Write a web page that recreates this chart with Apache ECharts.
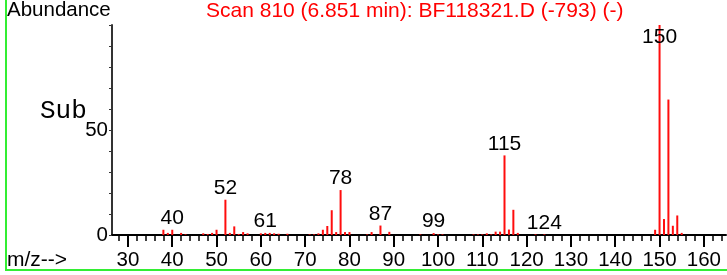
<!DOCTYPE html>
<html>
<head>
<meta charset="utf-8">
<script src="https://cdn.jsdelivr.net/npm/echarts@6/dist/echarts.min.js"></script>
<style>
  html, body { margin: 0; padding: 0; background: #fff; }
  #layout { width: 727px; height: 275px; }
</style>
</head>
<body>
<div id="layout"></div>
<script>
// mass spectrum, scan 810
const massCharge = [38, 39, 40, 42, 43, 47, 48, 49, 50, 52, 53, 54, 55, 56, 57,
    60, 61, 62, 63, 64, 66, 71, 72, 73, 74, 75, 76, 77, 78, 79, 80,
    84, 85, 87, 89, 96, 99, 100, 101, 108, 109, 110, 111, 112, 113, 114,
    115, 116, 117, 118, 122, 124, 149, 150, 151, 152, 153, 154, 155];
const abundance = [2.5, 1, 2.5, 1, 0.3, 0.8, 0.5, 1, 2.5, 16.8, 1, 4.1, 0.5, 1.4, 0.8,
    0.8, 1, 1, 0.8, 0.6, 0.6, 0.3, 0.3, 0.8, 2.5, 4.3, 11.8, 1.4, 21.4, 1.4, 1.4,
    0.3, 1.4, 4.5, 1.5, 0.3, 0.9, 0.3, 0.3, 0.3, 0.3, 0.3, 0.8, 0.3, 1.6, 1.6,
    37.9, 2.6, 12, 1, 0.3, 0.3, 2.5, 100, 7.6, 64.5, 4.4, 9.3, 1];
const labeledPeaks = [40, 52, 61, 78, 87, 99, 115, 124, 150];
const majorTicks = [30, 40, 50, 60, 70, 80, 90, 100, 110, 120, 130, 140, 150, 160];
const minorTicks = [];
for (let t = 28; t <= 164; t += 2) minorTicks.push(t);
const yLabels = [0, 50];

const font = '"Liberation Sans", Arial, sans-serif';

let myChart = echarts.init(document.getElementById('layout'));

let barData = massCharge.map(function(m, i) {
    let item = { value: [m, abundance[i]] };
    if (labeledPeaks.indexOf(m) >= 0) {
        item.label = {
            show: true,
            position: m === 150 ? 'insideTop' : 'top',
            distance: m === 150 ? 2 : 1,
            formatter: String(m),
            color: '#000',
            fontSize: 21,
            fontFamily: font
        };
    }
    return item;
});

let option = {
    animation: false,
    title: {
        text: 'Scan 810 (6.851 min): BF118321.D (-793) (-)',
        left: 206,
        top: 1,
        padding: 0,
        textStyle: { color: '#ff0000', fontSize: 21, fontWeight: 'normal', fontFamily: font }
    },
    grid: { left: 112, right: 1, top: 25, bottom: 40 },
    xAxis: [
        {
            type: 'value',
            min: 26.4,
            max: 165,
            axisLine: { show: true, onZero: false, lineStyle: { color: '#000', width: 2 } },
            axisTick: { show: true, customValues: majorTicks, length: 12, lineStyle: { color: '#000', width: 2 } },
            axisLabel: { customValues: majorTicks, color: '#000', fontSize: 20.5, fontFamily: font, margin: 15 },
            splitLine: { show: false }
        },
        {
            type: 'value',
            min: 26.4,
            max: 165,
            position: 'bottom',
            axisLine: { show: false },
            axisTick: { show: true, customValues: minorTicks, length: 6, lineStyle: { color: '#000', width: 1.5 } },
            axisLabel: { show: false },
            splitLine: { show: false }
        }
    ],
    yAxis: {
        type: 'value',
        min: 0,
        max: 100,
        interval: 10,
        axisLine: { show: true, lineStyle: { color: '#333', width: 2 } },
        axisTick: { show: true, length: 3, lineStyle: { color: '#333' } },
        axisLabel: {
            color: '#000', fontSize: 20.5, fontFamily: font, margin: 4,
            formatter: function(v) { return yLabels.indexOf(v) >= 0 ? String(v) : ''; }
        },
        splitLine: { show: false }
    },
    series: [{
        type: 'bar',
        xAxisIndex: 0,
        barWidth: 2,
        itemStyle: { color: '#ff0d0d' },
        data: barData
    }],
    graphic: [
        {
            type: 'polyline',
            shape: { points: [[6, -2], [6, 270], [730, 270]] },
            style: { stroke: '#33ee33', lineWidth: 2, fill: null }
        },
        {
            type: 'text', left: 7, top: 0,
            style: { text: 'Abundance', fill: '#000', font: '20.5px ' + font }
        },
        {
            type: 'text', x: 40, y: 111,
            style: { text: 'Sub', fill: '#000', font: '26px "Liberation Mono", "Courier New", monospace', verticalAlign: 'middle' }
        },
        {
            type: 'text', x: 7, y: 260,
            style: { text: 'm/z-->', fill: '#000', font: '21px ' + font, verticalAlign: 'middle' }
        }
    ]
};
myChart.setOption(option);
</script>
</body>
</html>
